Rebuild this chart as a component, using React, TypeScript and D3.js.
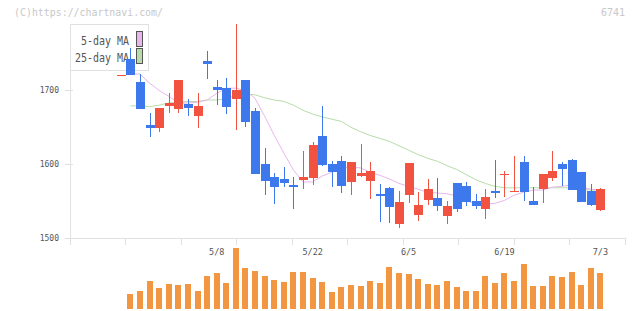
import React from "react";
import * as d3 from "d3";

// trading days (first day has no volume shown)
const dates = [
  "4/19", "4/20", "4/21", "4/24", "4/25", "4/26", "4/27", "4/28", "5/1", "5/2",
  "5/8", "5/9", "5/10", "5/11", "5/12", "5/15", "5/16", "5/17", "5/18", "5/19",
  "5/22", "5/23", "5/24", "5/25", "5/26", "5/29", "5/30", "5/31", "6/1", "6/2",
  "6/5", "6/6", "6/7", "6/8", "6/9", "6/12", "6/13", "6/14", "6/15", "6/16",
  "6/19", "6/20", "6/21", "6/22", "6/23", "6/26", "6/27", "6/28", "6/29", "6/30",
  "7/3",
];
const dateLabels = ["5/8", "5/22", "6/5", "6/19", "7/3"];

const open = [
  1721, 1742, 1711, 1653, 1649, 1679, 1675, 1681, 1666, 1740,
  1704, 1703, 1689, 1714, 1672, 1600, 1582, 1580, 1572, 1578,
  1581, 1638, 1600, 1605, 1576, 1584, 1577, 1559, 1568, 1519,
  1558, 1531, 1551, 1554, 1530, 1574, 1570, 1550, 1539, 1564,
  1586, 1563, 1603, 1550, 1566, 1581, 1600, 1606, 1589, 1564,
  1538,
];
const high = [
  1721, 1757, 1722, 1669, 1676, 1696, 1714, 1688, 1696, 1754,
  1714, 1717, 1790, 1714, 1676, 1622, 1588, 1596, 1582, 1618,
  1630, 1679, 1605, 1611, 1603, 1628, 1603, 1573, 1569, 1564,
  1602, 1562, 1580, 1581, 1550, 1574, 1576, 1560, 1566, 1606,
  1591, 1611, 1611, 1569, 1587, 1618, 1603, 1607, 1589, 1573,
  1568,
];
const low = [
  1721, 1721, 1675, 1637, 1643, 1669, 1670, 1666, 1649, 1716,
  1680, 1668, 1647, 1651, 1587, 1558, 1546, 1569, 1539, 1566,
  1572, 1597, 1569, 1561, 1558, 1583, 1553, 1522, 1520, 1513,
  1547, 1523, 1545, 1536, 1519, 1535, 1543, 1539, 1526, 1554,
  1556, 1562, 1550, 1545, 1547, 1577, 1570, 1565, 1549, 1543,
  1537,
];
const close = [
  1721, 1721, 1675, 1649, 1676, 1683, 1714, 1676, 1679, 1736,
  1701, 1677, 1700, 1657, 1587, 1577, 1569, 1574, 1569, 1582,
  1626, 1599, 1589, 1570, 1603, 1588, 1591, 1557, 1542, 1549,
  1602, 1545, 1566, 1543, 1543, 1539, 1549, 1543, 1556, 1561,
  1587, 1564, 1562, 1545, 1587, 1591, 1593, 1565, 1549, 1545,
  1566,
];
// volume, thousand shares
const volume = [
  null, 15, 18, 28, 21, 25, 24, 25, 18, 33,
  36, 26, 61, 41, 38, 33, 29, 27, 37, 37,
  31, 27, 17, 22, 24, 23, 28, 26, 42, 36,
  35, 30, 25, 24, 28, 22, 18, 18, 33, 26,
  36, 28, 45, 23, 23, 33, 32, 37, 24, 41,
  36,
];
const ma5 = [
  null, 1723, 1722, 1710, 1700, 1692, 1683, 1683, 1684, 1687,
  1696, 1703, 1703, 1700, 1689, 1665, 1639, 1615, 1592, 1576,
  1576, 1584, 1589, 1595, 1596, 1595, 1589, 1585, 1580, 1574,
  1570, 1566, 1562, 1561, 1560, 1557, 1550, 1547, 1546, 1547,
  1551, 1558, 1562, 1565, 1565, 1569, 1570, 1572, 1569, 1566,
  1565,
];
const ma25 = [
  null, 1679, 1679, 1678, 1680, 1683, 1684, 1685, 1685, 1687,
  1687, 1689, 1693, 1695, 1694, 1690, 1687, 1685, 1680, 1673,
  1668, 1664, 1661, 1658, 1650, 1644, 1639, 1635, 1631, 1625,
  1619, 1613, 1608, 1604, 1598, 1593, 1586, 1579, 1574, 1570,
  1568, 1568, 1568, 1568, 1568, 1568, 1568, 1568, 1566, 1565,
  1565,
];
const priceTicks = [1500, 1600, 1700];

const W = 640;
const H = 311;
const plot = { left: 70, right: 625, top: 24, bottom: 238 };
const volBase = 309;
const volTop = 248;

const RED = "#f25340";
const BLUE = "#3d78ec";
const ORANGE = "#f39641";
const PINK = "#e9b6ec";
const GREEN = "#b7dca9";
const AXIS = "#e0e0e0";
const TEXT = "#555";
const MONO = "'DejaVu Sans Mono', monospace";

export default function App() {
  const idx = d3.range(dates.length);
  const x = d3.scaleLinear().domain([0, dates.length - 1]).range([120.8, 600.4]);
  const y = d3.scaleLinear().domain([1500, d3.max(high)!]).range([plot.bottom, plot.top]);
  const yv = d3.scaleLinear().domain([0, d3.max(volume, (v) => v ?? 0)!]).range([volBase, volTop]);
  const grid = d3.scaleLinear().domain([0, 10]).range([plot.left, plot.right]);

  const maLine = (vals: (number | null)[]) =>
    d3
      .line<number>()
      .defined((i) => vals[i] != null)
      .x((i) => x(i))
      .y((i) => y(vals[i] as number))(idx) ?? "";

  const bodyW = 9;
  const volW = 6;

  return (
    <div style={{ position: "absolute", left: 0, top: 0 }}>
      <svg width={W} height={H} style={{ display: "block", background: "#fff" }}>
        <text x={14} y={16} fontFamily={MONO} fontSize={11} textLength={149} lengthAdjust="spacingAndGlyphs" fill="#c8c8c8">
          (C)https://chartnavi.com/
        </text>
        <text x={625} y={16} textAnchor="end" fontFamily={MONO} fontSize={11} textLength={24} lengthAdjust="spacingAndGlyphs" fill="#c8c8c8">
          6741
        </text>

        {/* axes */}
        <g shapeRendering="crispEdges">
          <line x1={plot.left} x2={plot.left} y1={plot.top} y2={plot.bottom} stroke={AXIS} />
          <line x1={plot.left} x2={plot.right} y1={plot.bottom} y2={plot.bottom} stroke={AXIS} />
          {d3.range(11).map((k) => (
            <line key={k} x1={grid(k)} x2={grid(k)} y1={plot.bottom} y2={plot.bottom + 7} stroke={AXIS} />
          ))}
          {priceTicks.map((p) => (
            <line key={p} x1={plot.left - 5} x2={plot.left + 3} y1={y(p)} y2={y(p)} stroke={AXIS} />
          ))}
        </g>
        {priceTicks.map((p) => (
          <text key={p} x={59} y={y(p)} dy="0.35em" textAnchor="end" fontFamily={MONO} fontSize={8} fill={TEXT}>
            {p}
          </text>
        ))}
        {dateLabels.map((d) => (
          <text key={d} x={x(dates.indexOf(d))} y={255} textAnchor="middle" fontFamily={MONO} fontSize={8.5} fill={TEXT}>
            {d}
          </text>
        ))}

        {/* legend */}
        <g>
          <rect x={70.5} y={24.5} width={78} height={46} fill="#fff" stroke={AXIS} shapeRendering="crispEdges" />
          <text x={129} y={45} textAnchor="end" fontFamily={MONO} fontSize={12} textLength={48} lengthAdjust="spacingAndGlyphs" fill={TEXT}>
            5-day MA
          </text>
          <text x={129} y={62} textAnchor="end" fontFamily={MONO} fontSize={12} textLength={54} lengthAdjust="spacingAndGlyphs" fill={TEXT}>
            25-day MA
          </text>
          <rect x={136.5} y={31.5} width={6} height={15} fill={PINK} stroke="#555" shapeRendering="crispEdges" />
          <rect x={136.5} y={48.5} width={6} height={15} fill={GREEN} stroke="#555" shapeRendering="crispEdges" />
        </g>

        {/* moving averages */}
        <path d={maLine(ma25)} fill="none" stroke={GREEN} strokeWidth={1} />
        <path d={maLine(ma5)} fill="none" stroke={PINK} strokeWidth={1} />

        {/* candles */}
        <g shapeRendering="crispEdges">
          {idx.map((i) => {
            const up = close[i] >= open[i];
            const c = up ? RED : BLUE;
            const cx = Math.round(x(i));
            const top = y(Math.max(open[i], close[i]));
            const bot = y(Math.min(open[i], close[i]));
            return (
              <g key={i}>
                <rect x={cx} y={y(high[i])} width={1} height={Math.max(1, y(low[i]) - y(high[i]))} fill={c} />
                <rect x={cx - 4} y={top} width={bodyW} height={Math.max(1.5, bot - top)} fill={c} />
              </g>
            );
          })}
        </g>

        {/* volume */}
        <g shapeRendering="crispEdges">
          {idx
            .filter((i) => volume[i] != null)
            .map((i) => (
              <rect
                key={i}
                x={Math.round(x(i)) - 3}
                y={yv(volume[i] as number)}
                width={volW}
                height={volBase - yv(volume[i] as number)}
                fill={ORANGE}
              />
            ))}
        </g>
      </svg>
    </div>
  );
}
